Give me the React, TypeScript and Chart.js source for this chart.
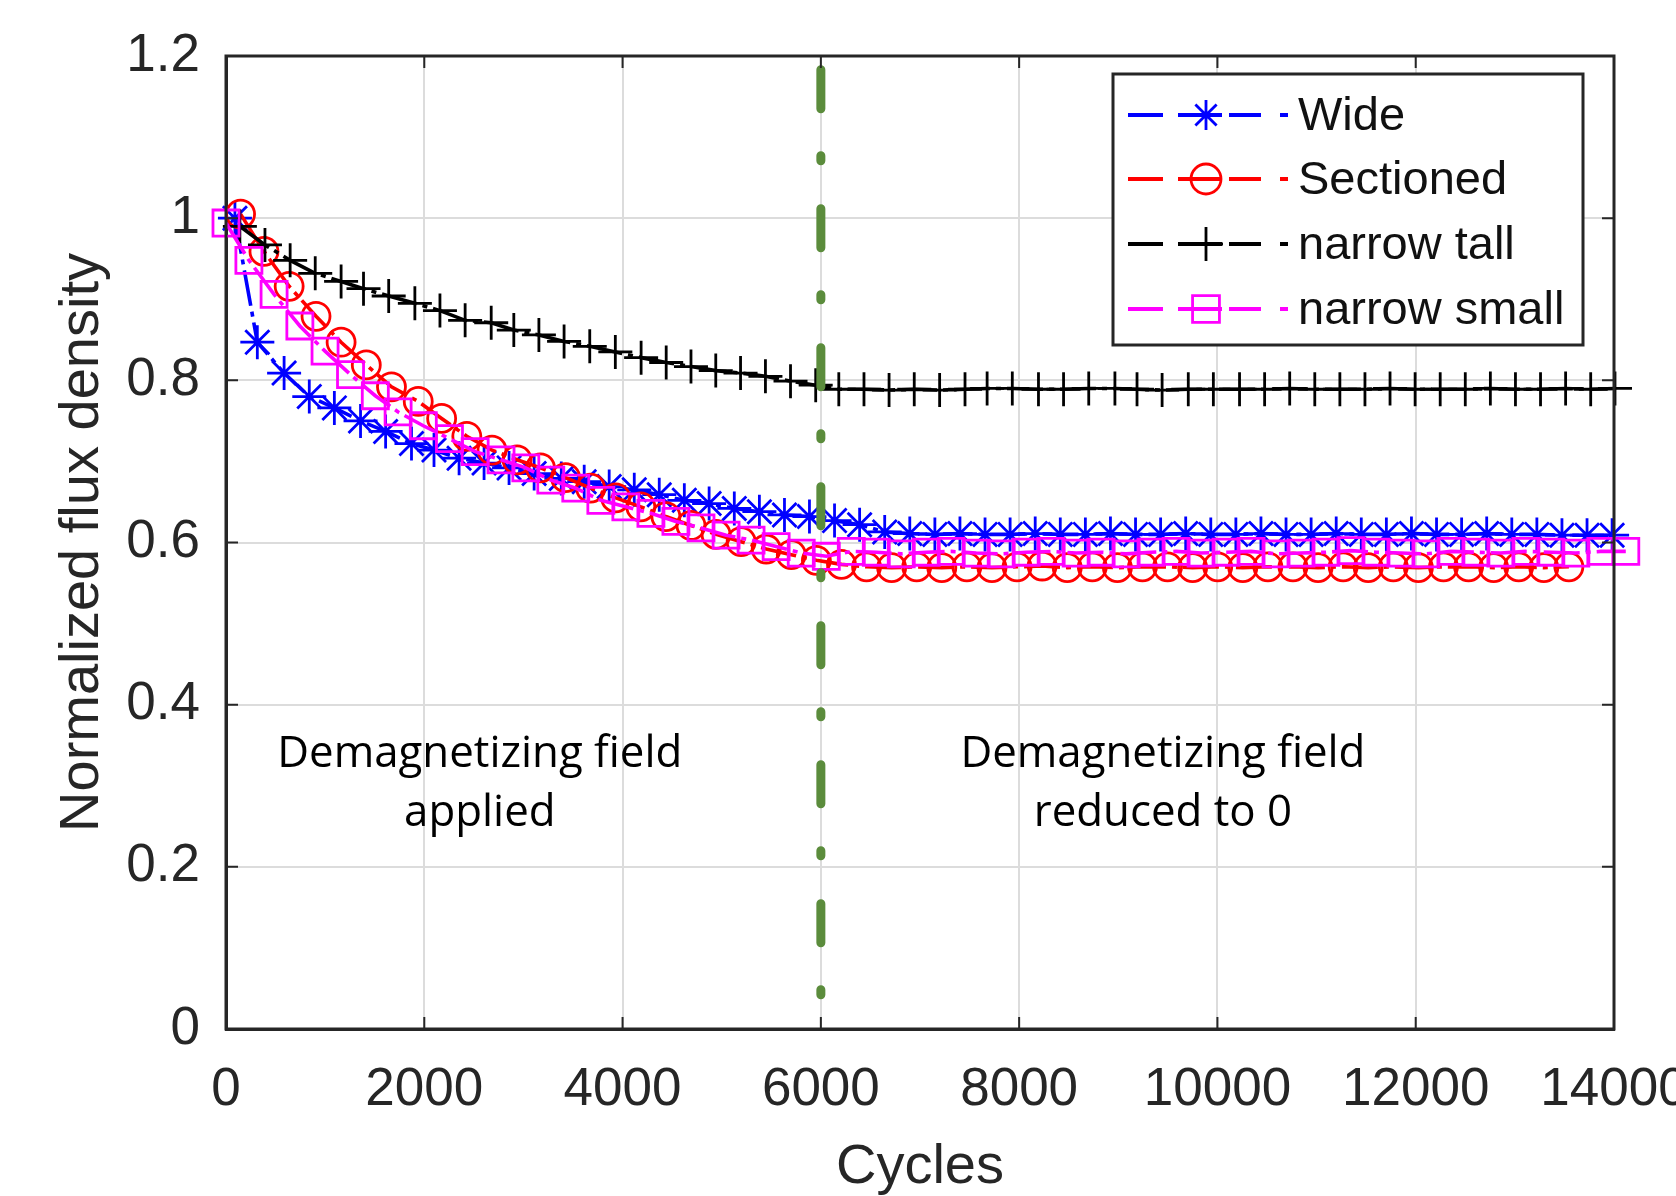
import React, { useEffect, useRef } from 'react';
import { Chart, registerables } from 'chart.js';

Chart.register(...registerables);

// ---------- data ----------
const seriesNames = ['Wide', 'Sectioned', 'narrow tall', 'narrow small'];
const seriesColors = ['#0000ff', '#ff0000', '#000000', '#ff00ff'];
const seriesMarkers = ['star', 'circle', 'cross', 'rect'];

const wideX = [
  90, 316, 586, 840, 1093, 1357, 1610, 1871, 2098, 2351,
  2603, 2855, 3108, 3382, 3613, 3865, 4118, 4370, 4623, 4873,
  5127, 5380, 5633, 5885, 6138, 6391, 6644, 6897, 7150, 7403,
  7656, 7909, 8162, 8415, 8668, 8921, 9174, 9427, 9680, 9933,
  10186, 10439, 10692, 10945, 11198, 11451, 11704, 11957, 12210, 12463,
  12716, 12969, 13222, 13475, 13728, 13981,
];
const wideY = [
  1.0, 0.847, 0.809, 0.78, 0.766, 0.75, 0.737, 0.722, 0.714, 0.704,
  0.698, 0.692, 0.685, 0.679, 0.675, 0.669, 0.665, 0.659, 0.652, 0.648,
  0.642, 0.638, 0.634, 0.632, 0.627, 0.622, 0.613, 0.611, 0.61, 0.611,
  0.61, 0.61, 0.611, 0.61, 0.61, 0.611, 0.61, 0.61, 0.611, 0.61,
  0.61, 0.611, 0.61, 0.61, 0.611, 0.61, 0.61, 0.611, 0.61, 0.61,
  0.611, 0.61, 0.61, 0.609, 0.609, 0.609,
];

const sectionedX = [
  147, 383, 637, 908, 1161, 1415, 1669, 1939, 2175, 2429,
  2683, 2936, 3172, 3425, 3678, 3931, 4184, 4437, 4690, 4943,
  5196, 5449, 5702, 5955, 6208, 6461, 6714, 6967, 7220, 7473,
  7726, 7979, 8232, 8485, 8738, 8991, 9244, 9497, 9750, 10003,
  10256, 10509, 10762, 11015, 11268, 11521, 11774, 12027, 12280, 12533,
  12786, 13039, 13292, 13545,
];
const sectionedY = [
  1.005, 0.959, 0.916, 0.879, 0.847, 0.819, 0.792, 0.774, 0.753, 0.731,
  0.714, 0.702, 0.692, 0.68, 0.667, 0.655, 0.644, 0.632, 0.621, 0.61,
  0.601, 0.592, 0.585, 0.578, 0.573, 0.57, 0.569, 0.57, 0.569, 0.57,
  0.569, 0.57, 0.571, 0.569, 0.57, 0.569, 0.57, 0.57, 0.569, 0.57,
  0.569, 0.57, 0.57, 0.569, 0.57, 0.569, 0.57, 0.569, 0.57, 0.57,
  0.569, 0.57, 0.569, 0.57,
];

const narrowTallX = [
  140, 393, 647, 900, 1161, 1387, 1641, 1905, 2158, 2412,
  2675, 2903, 3156, 3410, 3669, 3927, 4187, 4440, 4690, 4940,
  5190, 5441, 5694, 5948, 6181, 6435, 6688, 6942, 7198, 7454,
  7677, 7931, 8195, 8448, 8702, 8966, 9189, 9442, 9706, 9959,
  10223, 10476, 10729, 10982, 11235, 11488, 11741, 11994, 12247, 12500,
  12753, 13006, 13259, 13512, 13765, 14010,
];
const narrowTallY = [
  0.99, 0.967, 0.948, 0.932, 0.922, 0.913, 0.904, 0.895, 0.886, 0.874,
  0.871, 0.862, 0.856, 0.848, 0.842, 0.835, 0.828, 0.822, 0.817, 0.812,
  0.809, 0.805, 0.799, 0.794, 0.789, 0.789, 0.788, 0.789, 0.788, 0.789,
  0.79, 0.79, 0.789, 0.789, 0.79, 0.79, 0.789, 0.788, 0.789, 0.789,
  0.789, 0.789, 0.79, 0.789, 0.789, 0.789, 0.79, 0.789, 0.789, 0.789,
  0.79, 0.789, 0.789, 0.79, 0.789, 0.79,
];

const narrowSmallX = [
  0, 231, 485, 745, 999, 1256, 1506, 1736, 1990, 2254,
  2513, 2774, 3024, 3276, 3528, 3781, 4033, 4286, 4538, 4791,
  5044, 5296, 5549, 5802, 6055, 6307, 6559, 6811, 7063, 7315,
  7567, 7819, 8071, 8323, 8575, 8827, 9079, 9331, 9583, 9835,
  10087, 10339, 10591, 10843, 11095, 11347, 11599, 11851, 12103, 12355,
  12607, 12859, 13111, 13363, 13615, 13867, 14119,
];
const narrowSmallY = [
  0.994, 0.948, 0.906, 0.867, 0.836, 0.807, 0.781, 0.761, 0.744, 0.728,
  0.712, 0.702, 0.692, 0.677, 0.667, 0.652, 0.644, 0.636, 0.626, 0.618,
  0.609, 0.603, 0.595, 0.587, 0.583, 0.589, 0.588, 0.586, 0.588, 0.589,
  0.587, 0.586, 0.588, 0.589, 0.587, 0.588, 0.586, 0.588, 0.589, 0.587,
  0.588, 0.589, 0.586, 0.587, 0.588, 0.59, 0.588, 0.587, 0.586, 0.589,
  0.588, 0.587, 0.589, 0.588, 0.587, 0.589, 0.589,
];

const seriesX = [wideX, sectionedX, narrowTallX, narrowSmallX];
const seriesY = [wideY, sectionedY, narrowTallY, narrowSmallY];

const xMin = 0;
const xMax = 14000;
const xStep = 2000;
const yMin = 0;
const yMax = 1.2;
const yStep = 0.2;

// boundary line (field switched off)
const boundaryCycle = 6000;
const boundaryTop = 1.183;
const boundaryBottom = 0.042;

// annotations: centre cycle, baseline value of each line, text lines
const annotationX = [2560, 9450];
const annotationLineY = [0.323, 0.25];
const annotationText = [
  ['Demagnetizing field', 'applied'],
  ['Demagnetizing field', 'reduced to 0'],
];

const axisFont = 'Liberation Sans, Arial, Helvetica, sans-serif';
const axisColor = '#262626';

// ---------- helpers ----------
function drawMarker(ctx: CanvasRenderingContext2D, style: string, x: number, y: number, r: number) {
  ctx.beginPath();
  if (style === 'circle') {
    ctx.arc(x, y, r, 0, Math.PI * 2);
  } else if (style === 'rect') {
    const h = r * Math.SQRT1_2;
    ctx.rect(x - h, y - h, 2 * h, 2 * h);
  } else {
    ctx.moveTo(x - r, y);
    ctx.lineTo(x + r, y);
    ctx.moveTo(x, y - r);
    ctx.lineTo(x, y + r);
    if (style === 'star') {
      const d = r * Math.SQRT1_2;
      ctx.moveTo(x - d, y - d);
      ctx.lineTo(x + d, y + d);
      ctx.moveTo(x - d, y + d);
      ctx.lineTo(x + d, y - d);
    }
  }
  ctx.stroke();
}

const framePlugin = {
  id: 'matlabFrame',
  afterDatasetsDraw(chart: any) {
    const { ctx, chartArea, scales } = chart;
    const xs = scales.x;
    const ys = scales.y;
    ctx.save();
    // green dash-dot boundary
    const gx = xs.getPixelForValue(boundaryCycle);
    ctx.strokeStyle = '#5b8c3c';
    ctx.lineWidth = 9;
    ctx.lineCap = 'round';
    ctx.setLineDash([39, 47, 5, 48]);
    ctx.beginPath();
    ctx.moveTo(gx, ys.getPixelForValue(boundaryTop));
    ctx.lineTo(gx, ys.getPixelForValue(boundaryBottom));
    ctx.stroke();
    ctx.setLineDash([]);
    ctx.lineCap = 'butt';

    // box + inward ticks
    ctx.strokeStyle = axisColor;
    ctx.lineWidth = 3;
    ctx.strokeRect(chartArea.left, chartArea.top, chartArea.right - chartArea.left, chartArea.bottom - chartArea.top);
    ctx.lineWidth = 2;
    const tl = 12;
    ctx.beginPath();
    for (let v = xMin; v <= xMax; v += xStep) {
      const px = xs.getPixelForValue(v);
      ctx.moveTo(px, chartArea.bottom);
      ctx.lineTo(px, chartArea.bottom - tl);
      ctx.moveTo(px, chartArea.top);
      ctx.lineTo(px, chartArea.top + tl);
    }
    for (let i = 0; i <= Math.round((yMax - yMin) / yStep); i++) {
      const py = ys.getPixelForValue(yMin + i * yStep);
      ctx.moveTo(chartArea.left, py);
      ctx.lineTo(chartArea.left + tl, py);
      ctx.moveTo(chartArea.right, py);
      ctx.lineTo(chartArea.right - tl, py);
    }
    ctx.stroke();

    // annotations
    const probe = 'Demagnetizing field';
    ctx.font = '100px "Open Sans"';
    const w100 = ctx.measureText(probe).width;
    const size = (100 * 405) / w100;
    ctx.font = `${size.toFixed(1)}px "Open Sans"`;
    ctx.fillStyle = '#000';
    ctx.textAlign = 'center';
    ctx.textBaseline = 'alphabetic';
    annotationText.forEach((lines, i) => {
      const px = xs.getPixelForValue(annotationX[i]);
      lines.forEach((t, j) => {
        ctx.fillText(t, px, ys.getPixelForValue(annotationLineY[j]));
      });
    });
    ctx.restore();
  },
  afterDraw(chart: any) {
    const { ctx } = chart;
    ctx.save();
    const bx = 1113, by = 74, bw = 470, bh = 271;
    ctx.fillStyle = '#fff';
    ctx.fillRect(bx, by, bw, bh);
    ctx.strokeStyle = axisColor;
    ctx.lineWidth = 3;
    ctx.strokeRect(bx, by, bw, bh);
    const rows = [115, 179, 244, 309];
    const segs = [[1128, 1163], [1178, 1222], [1229, 1261], [1280, 1288]];
    const radii = [15, 15, 17, 19];
    ctx.font = `47px ${axisFont}`;
    ctx.textAlign = 'left';
    ctx.textBaseline = 'middle';
    seriesNames.forEach((name, i) => {
      const y = rows[i];
      ctx.strokeStyle = seriesColors[i];
      ctx.lineWidth = 4;
      ctx.beginPath();
      segs.forEach(([a, b]) => {
        ctx.moveTo(a, y);
        ctx.lineTo(b, y);
      });
      ctx.stroke();
      ctx.lineWidth = 2.8;
      drawMarker(ctx, seriesMarkers[i], 1206, y, radii[i]);
      ctx.fillStyle = '#111';
      ctx.fillText(name, 1298, y + 2);
    });
    ctx.restore();
  },
};

export default function App() {
  const ref = useRef<HTMLCanvasElement | null>(null);

  useEffect(() => {
    const canvas = ref.current;
    if (!canvas) return;
    const pointRadii = [17, 14, 17, 18.4];
    const orders = [4, 3, 2, 1];
    const datasets = seriesNames.map((name, i) => ({
      label: name,
      data: seriesX[i].map((x, k) => ({ x, y: seriesY[i][k] })),
      borderColor: seriesColors[i],
      backgroundColor: 'transparent',
      borderWidth: 3.6,
      borderDash: [36, 6, 5, 6],
      pointStyle: seriesMarkers[i],
      pointRadius: pointRadii[i],
      pointBorderWidth: 2.8,
      pointBorderColor: seriesColors[i],
      pointBackgroundColor: 'transparent',
      tension: 0,
      fill: false,
      clip: false,
      order: orders[i],
    }));

    const chart = new Chart(canvas, {
      type: 'line',
      data: { datasets },
      options: {
        animation: false,
        responsive: false,
        devicePixelRatio: 1,
        layout: { padding: { top: 56, right: 62, left: 0, bottom: 0 } },
        plugins: {
          legend: { display: false },
          tooltip: { enabled: false },
        },
        scales: {
          x: {
            type: 'linear',
            min: xMin,
            max: xMax,
            ticks: {
              stepSize: xStep,
              autoSkip: false,
              maxRotation: 0,
              minRotation: 0,
              padding: 30,
              color: axisColor,
              font: { family: axisFont, size: 53 },
              callback: (v: any) => String(Math.round(Number(v))),
            },
            grid: { color: '#dcdcdc', lineWidth: 2, drawTicks: false },
            border: { color: axisColor, width: 3 },
            title: {
              display: true,
              text: 'Cycles',
              color: axisColor,
              font: { family: axisFont, size: 56, lineHeight: 1 },
              padding: { top: 0, bottom: 0 },
            },
            afterFit: (s: any) => {
              s.height = 167;
              s.paddingLeft = 0;
              s.paddingRight = 0;
            },
          },
          y: {
            type: 'linear',
            min: yMin,
            max: yMax,
            ticks: {
              stepSize: yStep,
              padding: 26,
              color: axisColor,
              font: { family: axisFont, size: 53 },
              callback: (v: any) => String(Math.round(Number(v) * 10) / 10),
            },
            grid: { color: '#dcdcdc', lineWidth: 2, drawTicks: false },
            border: { color: axisColor, width: 3 },
            title: {
              display: true,
              text: 'Normalized flux density',
              color: axisColor,
              font: { family: axisFont, size: 56, lineHeight: 1 },
              padding: { top: 55, bottom: 0 },
            },
            afterFit: (s: any) => {
              s.width = 226;
              s.paddingTop = 0;
              s.paddingBottom = 0;
            },
          },
        },
      },
      plugins: [framePlugin],
    });
    return () => chart.destroy();
  }, []);

  return (
    <div
      style={{
        position: 'absolute',
        left: 0,
        top: 0,
        width: 1676,
        height: 1196,
        overflow: 'hidden',
        background: '#fff',
      }}
    >
      <canvas ref={ref} width={1676} height={1196} style={{ display: 'block' }} />
    </div>
  );
}
